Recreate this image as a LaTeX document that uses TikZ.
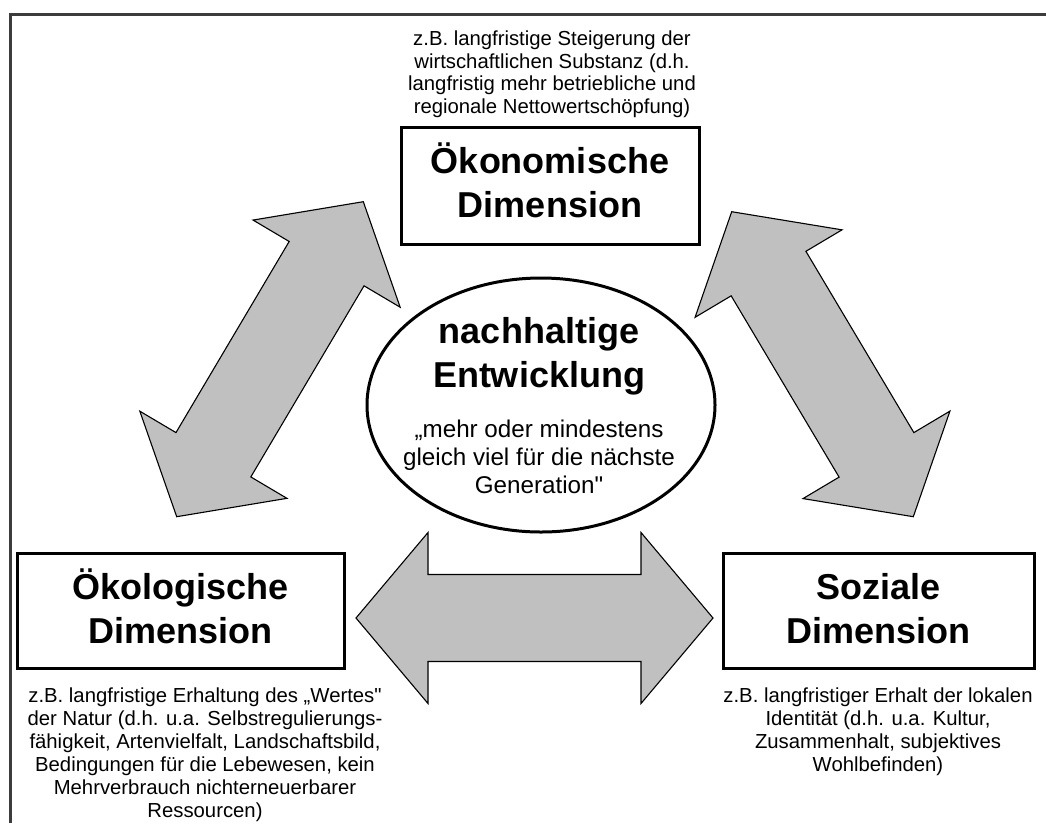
\documentclass[tikz,border=0pt]{standalone}
\usepackage{fontspec}
\setmainfont{Liberation Sans}[Ligatures=TeXOff]
\usetikzlibrary{calc,shapes.geometric}
\definecolor{arrowgray}{HTML}{C0C0C0}
\definecolor{framegray}{HTML}{3C3C3C}

% anchor=base puts the baseline of the last line at the given point
\tikzset{
  note/.style={align=center, inner sep=0pt, anchor=base,
    font=\fontsize{20.3}{23}\selectfont},
  quote/.style={align=center, inner sep=0pt, anchor=base,
    font=\fontsize{24.2}{28}\selectfont},
  dimtitle/.style={align=center, inner sep=0pt, anchor=base,
    font=\fontsize{36}{44}\selectfont\bfseries},
  dimbox/.style={draw=black, line width=3pt, fill=white, inner sep=0pt},
  blockarrow/.style={fill=arrowgray, draw=black, line width=1.1pt, line join=miter},
}

% double-headed block arrow between two named tip coordinates
\newcommand\dblblockarrow[2]{%
  \draw[blockarrow] (#1)
    -- ($(#1)!72pt!(#2)!85.5pt!-90:(#2)$)
    -- ($(#1)!72pt!(#2)!43.5pt!-90:(#2)$)
    -- ($(#2)!72pt!(#1)!43.5pt!90:(#1)$)
    -- ($(#2)!72pt!(#1)!85.5pt!90:(#1)$)
    -- (#2)
    -- ($(#2)!72pt!(#1)!85.5pt!-90:(#1)$)
    -- ($(#2)!72pt!(#1)!43.5pt!-90:(#1)$)
    -- ($(#1)!72pt!(#2)!43.5pt!90:(#2)$)
    -- ($(#1)!72pt!(#2)!85.5pt!90:(#2)$)
    -- cycle;}

\begin{document}
\begin{tikzpicture}[x=1pt,y=-1pt]
  \useasboundingbox[fill=white] (0,0) rectangle (1046,823);

  % outer frame (left and top edges)
  \draw[framegray, line width=3pt] (10,823) -- (10,14) -- (1046,14);

  % tips of the block arrows
  \coordinate (lA) at (176.7,516.7);
  \coordinate (lB) at (363.3,201.7);
  \coordinate (rA) at (731.7,211.7);
  \coordinate (rB) at (913.3,516.7);
  \coordinate (hA) at (356,618);
  \coordinate (hB) at (713,618);

  \dblblockarrow{lA}{lB}
  \dblblockarrow{rA}{rB}
  \dblblockarrow{hA}{hB}

  % the three dimensions
  \node[dimbox, minimum width=298pt, minimum height=117pt] (oeko) at (550,185.5) {};
  \node[dimbox, minimum width=327pt, minimum height=115pt] (oekol) at (180.5,610.5) {};
  \node[dimbox, minimum width=311pt, minimum height=115pt] (sozial) at (878.5,610.5) {};

  \node[dimtitle] (oekoT) at (550,217) {Ökonomische\\Dimension};
  \node[dimtitle] (oekolT) at (180.5,643) {Ökologische\\Dimension};
  \node[dimtitle] (sozialT) at (878.5,643) {Soziale\\Dimension};

  % centre
  \node[draw=black, ellipse, line width=3pt, fill=white, inner sep=0pt,
        minimum width=348pt, minimum height=254pt] (core) at (541,405) {};
  \node[dimtitle] (coreT) at (539,387) {nachhaltige\\Entwicklung};
  \node[quote] (coreQ) at (539,493)
    {„mehr oder mindestens\\gleich viel für die nächste\\Generation"};

  % examples
  \node[note, font=\fontsize{20.3}{22.4}\selectfont] (oekoN) at (552,113)
    {z.B. langfristige Steigerung der\\wirtschaftlichen Substanz (d.h.\\langfristig mehr betriebliche und\\regionale Nettowertschöpfung)};
  \node[note] (oekolN) at (205,817)
    {z.B. langfristige Erhaltung des „Wertes"\\der Natur (d.h. u.a. Selbstregulierungs-\\fähigkeit, Artenvielfalt, Landschaftsbild,\\Bedingungen für die Lebewesen, kein\\Mehrverbrauch nichterneuerbarer\\Ressourcen)};
  \node[note] (sozialN) at (878,771)
    {z.B. langfristiger Erhalt der lokalen\\Identität (d.h. u.a. Kultur,\\Zusammenhalt, subjektives\\Wohlbefinden)};
\end{tikzpicture}
\end{document}
